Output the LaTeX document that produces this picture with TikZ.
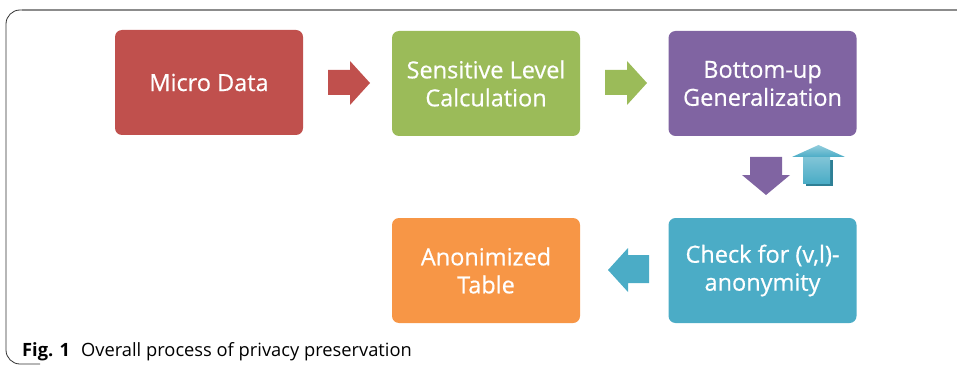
\documentclass[tikz,border=0pt]{standalone}
\usepackage{fontspec}
\setmainfont{Open Sans}
\definecolor{cred}{HTML}{C0504D}
\definecolor{cgreen}{HTML}{9BBB59}
\definecolor{cpurple}{HTML}{8064A2}
\definecolor{cblue}{HTML}{4BACC6}
\definecolor{cblued}{HTML}{2E7F95}
\definecolor{corange}{HTML}{F79646}
\begin{document}
\begin{tikzpicture}[x=1pt,y=-1pt,
  box/.style={rounded corners=7pt, minimum width=188pt, minimum height=105pt, text=white, align=center, font=\fontsize{23.5}{28}\selectfont\addfontfeature{FakeBold=0.6}, inner sep=0pt}]
\useasboundingbox (0,0) rectangle (957,366);
% frame
\draw[black!80, line width=0.8pt, rounded corners=14pt] (40,10) -- (6,10) -- (6,364) -- (40,364);
\draw[gray!90, line width=2pt] (957,10) -- (22,10);
% boxes
\node[box, fill=cred] (micro) at (209,82.5) {Micro Data};
\node[box, fill=cgreen] (sens) at (486,83.5) {Sensitive Level\\Calculation};
\node[box, fill=cpurple] (bottom) at (762.5,83.5) {Bottom-up\\Generalization};
\node[box, fill=cblue] (check) at (762.5,270.5) {Check for (v,l)-\\anonymity};
\node[box, fill=corange] (anon) at (486,270.5) {Anonimized\\Table};
% arrows
\fill[cred] (328,70) -- (350,70) -- (350,61) -- (370,83) -- (350,105) -- (350,95) -- (328,95) -- cycle;
\fill[cgreen] (605,70) -- (627,70) -- (627,61) -- (647,83) -- (627,105) -- (627,95) -- (605,95) -- cycle;
\fill[cpurple] (750,157) -- (782,157) -- (782,175) -- (790,175) -- (766,195) -- (742,175) -- (750,175) -- cycle;
\fill[cblued] (806,160) -- (833,160) -- (833,186) -- (806,186) -- cycle;
\shade[top color=cblue!70!white, bottom color=cblue] (803,157) -- (830,157) -- (830,183) -- (803,183) -- cycle;
\shade[top color=cblue!60!white, bottom color=cblue] (792,157) -- (818.5,145) -- (845,157) -- cycle;
\fill[cblue] (649,255) -- (628,255) -- (628,248) -- (608,270) -- (628,292) -- (628,283) -- (649,283) -- cycle;
% caption
\node[anchor=base west, inner sep=0pt, font=\fontsize{18.3}{20}\selectfont] (cap) at (22,356) {\textbf{Fig. 1}\hspace{0.6em}Overall process of privacy preservation};
\end{tikzpicture}
\end{document}
